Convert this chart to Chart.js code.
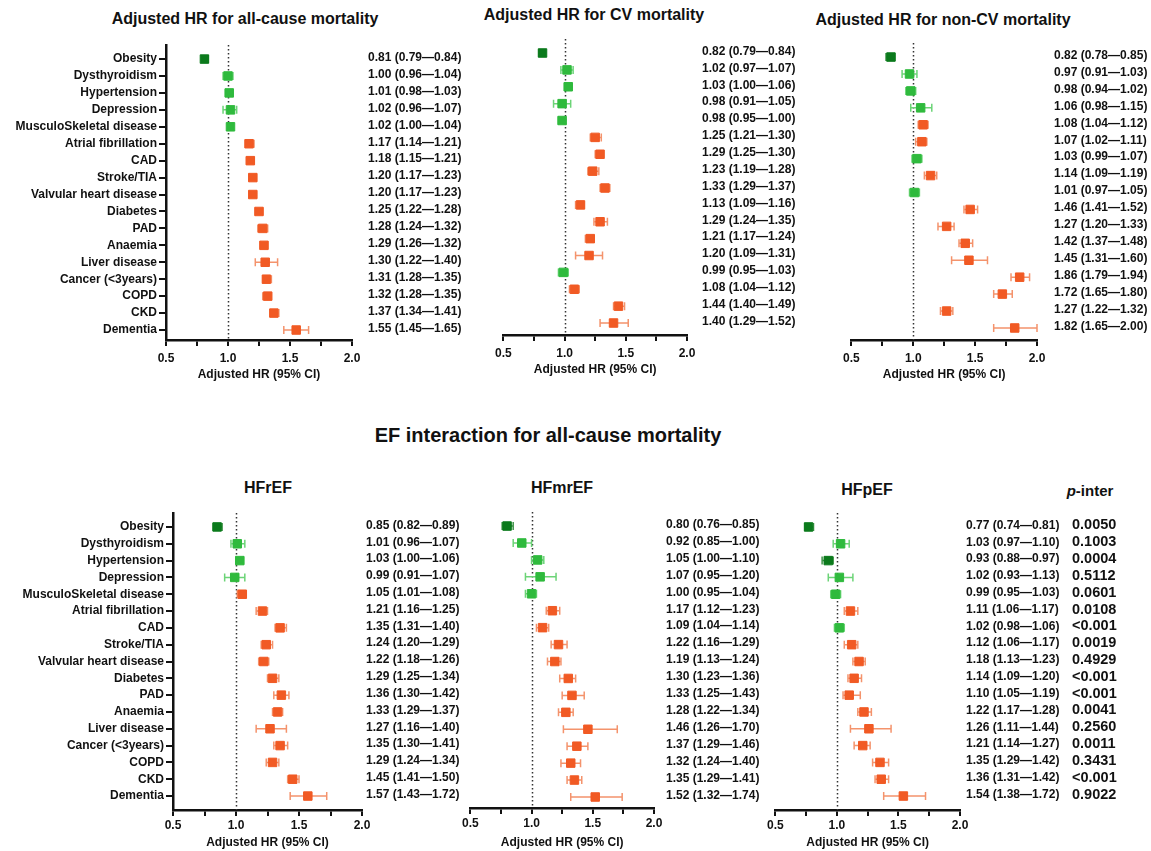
<!DOCTYPE html>
<html>
<head>
<meta charset="utf-8">
<script src="https://cdn.jsdelivr.net/npm/chart.js@4.4.1/dist/chart.umd.min.js"></script>
<style>
  body { margin: 0; background: #fff; width: 1151px; height: 851px; position: relative; overflow: hidden;
         font-family: "Liberation Sans", Arial, sans-serif; color: #111; }
  canvas { position: absolute; }
  .t { position: absolute; transform: translate(-50%, -50%); font-weight: bold; white-space: nowrap; }
</style>
</head>
<body>
<div class="t" style="left:245px;top:19px;font-size:16px">Adjusted HR for all-cause mortality</div>
<div class="t" style="left:594px;top:15px;font-size:16px">Adjusted HR for CV mortality</div>
<div class="t" style="left:943px;top:20px;font-size:16px">Adjusted HR for non-CV mortality</div>
<div class="t" style="left:548px;top:435px;font-size:20px">EF interaction for all-cause mortality</div>
<div class="t" style="left:268px;top:488px;font-size:16px">HFrEF</div>
<div class="t" style="left:562px;top:488px;font-size:16px">HFmrEF</div>
<div class="t" style="left:867px;top:490px;font-size:16px">HFpEF</div>
<div class="t" style="left:1090px;top:490px;font-size:15px"><i>p</i>-inter</div>

<script>
// Comorbidities (same order in every panel)
const conditions = ["Obesity", "Dysthyroidism", "Hypertension", "Depression", "MusculoSkeletal disease",
  "Atrial fibrillation", "CAD", "Stroke/TIA", "Valvular heart disease", "Diabetes", "PAD", "Anaemia",
  "Liver disease", "Cancer (<3years)", "COPD", "CKD", "Dementia"];

// Adjusted HR, all-cause mortality
const allHR = [0.81, 1.00, 1.01, 1.02, 1.02, 1.17, 1.18, 1.20, 1.20, 1.25, 1.28, 1.29, 1.30, 1.31, 1.32, 1.37, 1.55];
const allLo = [0.79, 0.96, 0.98, 0.96, 1.00, 1.14, 1.15, 1.17, 1.17, 1.22, 1.24, 1.26, 1.22, 1.28, 1.28, 1.34, 1.45];
const allHi = [0.84, 1.04, 1.03, 1.07, 1.04, 1.21, 1.21, 1.23, 1.23, 1.28, 1.32, 1.32, 1.40, 1.35, 1.35, 1.41, 1.65];

// Adjusted HR, CV mortality
const cvHR = [0.82, 1.02, 1.03, 0.98, 0.98, 1.25, 1.29, 1.23, 1.33, 1.13, 1.29, 1.21, 1.20, 0.99, 1.08, 1.44, 1.40];
const cvLo = [0.79, 0.97, 1.00, 0.91, 0.95, 1.21, 1.25, 1.19, 1.29, 1.09, 1.24, 1.17, 1.09, 0.95, 1.04, 1.40, 1.29];
const cvHi = [0.84, 1.07, 1.06, 1.05, 1.00, 1.30, 1.30, 1.28, 1.37, 1.16, 1.35, 1.24, 1.31, 1.03, 1.12, 1.49, 1.52];

// Adjusted HR, non-CV mortality
const ncvHR = [0.82, 0.97, 0.98, 1.06, 1.08, 1.07, 1.03, 1.14, 1.01, 1.46, 1.27, 1.42, 1.45, 1.86, 1.72, 1.27, 1.82];
const ncvLo = [0.78, 0.91, 0.94, 0.98, 1.04, 1.02, 0.99, 1.09, 0.97, 1.41, 1.20, 1.37, 1.31, 1.79, 1.65, 1.22, 1.65];
const ncvHi = [0.85, 1.03, 1.02, 1.15, 1.12, 1.11, 1.07, 1.19, 1.05, 1.52, 1.33, 1.48, 1.60, 1.94, 1.80, 1.32, 2.00];

// EF interaction: HFrEF
const refHR = [0.85, 1.01, 1.03, 0.99, 1.05, 1.21, 1.35, 1.24, 1.22, 1.29, 1.36, 1.33, 1.27, 1.35, 1.29, 1.45, 1.57];
const refLo = [0.82, 0.96, 1.00, 0.91, 1.01, 1.16, 1.31, 1.20, 1.18, 1.25, 1.30, 1.29, 1.16, 1.30, 1.24, 1.41, 1.43];
const refHi = [0.89, 1.07, 1.06, 1.07, 1.08, 1.25, 1.40, 1.29, 1.26, 1.34, 1.42, 1.37, 1.40, 1.41, 1.34, 1.50, 1.72];

// HFmrEF
const mrefHR = [0.80, 0.92, 1.05, 1.07, 1.00, 1.17, 1.09, 1.22, 1.19, 1.30, 1.33, 1.28, 1.46, 1.37, 1.32, 1.35, 1.52];
const mrefLo = [0.76, 0.85, 1.00, 0.95, 0.95, 1.12, 1.04, 1.16, 1.13, 1.23, 1.25, 1.22, 1.26, 1.29, 1.24, 1.29, 1.32];
const mrefHi = [0.85, 1.00, 1.10, 1.20, 1.04, 1.23, 1.14, 1.29, 1.24, 1.36, 1.43, 1.34, 1.70, 1.46, 1.40, 1.41, 1.74];

// HFpEF
const pefHR = [0.77, 1.03, 0.93, 1.02, 0.99, 1.11, 1.02, 1.12, 1.18, 1.14, 1.10, 1.22, 1.26, 1.21, 1.35, 1.36, 1.54];
const pefLo = [0.74, 0.97, 0.88, 0.93, 0.95, 1.06, 0.98, 1.06, 1.13, 1.09, 1.05, 1.17, 1.11, 1.14, 1.29, 1.31, 1.38];
const pefHi = [0.81, 1.10, 0.97, 1.13, 1.03, 1.17, 1.06, 1.17, 1.23, 1.20, 1.19, 1.28, 1.44, 1.27, 1.42, 1.42, 1.72];

// p for interaction
const pInter = ["0.0050", "0.1003", "0.0004", "0.5112", "0.0601", "0.0108", "<0.001", "0.0019", "0.4929",
  "<0.001", "<0.001", "0.0041", "0.2560", "0.0011", "0.3431", "<0.001", "0.9022"];

const xTicks = [0.5, 0.75, 1.0, 1.25, 1.5, 1.75, 2.0];

const FONT = '"Liberation Sans", Arial, sans-serif';
Chart.defaults.font.family = FONT;
Chart.defaults.color = "#111";

const DARK_GREEN = "#0b7a1c", GREEN = "#2fba3d", ORANGE = "#f15a24";

function markColor(lo, hi) {
  if (hi < 1) return DARK_GREEN;
  if (lo > 1) return ORANGE;
  return GREEN;
}
function barColor(lo, hi) {
  if (hi < 1) return "#3f9448";
  if (lo > 1) return "#f4936c";
  return "#6cd477";
}

/**
 * Error bars, reference line at HR = 1 and the text columns.
 */
function makeForest(p) {
  return {
    id: "forest",
    beforeDatasetsDraw(chart) {
      const { ctx, chartArea, scales: { x, y } } = chart;
      ctx.save();
      const x1 = Math.round(x.getPixelForValue(1)) + 0.5;
      ctx.strokeStyle = "#333";
      ctx.lineWidth = 1.5;
      ctx.setLineDash([1.5, 2.5]);
      ctx.beginPath();
      ctx.moveTo(x1, chartArea.top);
      ctx.lineTo(x1, chartArea.bottom);
      ctx.stroke();
      ctx.setLineDash([]);
      p.lo.forEach((lo, i) => {
        const hi = p.hi[i];
        const py = y.getPixelForValue(i);
        const a = x.getPixelForValue(lo), b = x.getPixelForValue(hi);
        ctx.strokeStyle = barColor(lo, hi);
        ctx.lineWidth = 1.5;
        ctx.beginPath();
        ctx.moveTo(a, py); ctx.lineTo(b, py);
        ctx.moveTo(a, py - 4); ctx.lineTo(a, py + 4);
        ctx.moveTo(b, py - 4); ctx.lineTo(b, py + 4);
        ctx.stroke();
      });
      ctx.restore();
    },
    afterDraw(chart) {
      const { ctx, chartArea, scales: { y } } = chart;
      ctx.save();
      ctx.fillStyle = "#111";
      ctx.textBaseline = "middle";
      ctx.textAlign = "left";
      p.hr.forEach((v, i) => {
        const py = y.getPixelForValue(i) - 1.5;
        ctx.font = "bold 12px " + FONT;
        ctx.fillText(`${v.toFixed(2)} (${p.lo[i].toFixed(2)}\u2014${p.hi[i].toFixed(2)})`,
          chartArea.right + p.textGap, py);
        if (p.pvals) {
          ctx.font = "bold 14.5px " + FONT;
          ctx.fillText(p.pvals[i], chartArea.right + p.pGap, py);
        }
      });
      ctx.restore();
    },
  };
}

function drawPanel(p) {
  const canvas = document.createElement("canvas");
  canvas.width = p.w;
  canvas.height = p.h;
  canvas.style.left = p.left + "px";
  canvas.style.top = p.top + "px";
  document.body.appendChild(canvas);

  const colors = p.hr.map((v, i) => markColor(p.lo[i], p.hi[i]));

  new Chart(canvas, {
    type: "scatter",
    data: {
      datasets: [{
        data: p.hr.map((v, i) => ({ x: v, y: i })),
        pointStyle: "rect",
        pointRadius: 6,
        pointHoverRadius: 6,
        pointBackgroundColor: colors,
        pointBorderColor: colors,
        pointBorderWidth: 1,
      }],
    },
    options: {
      responsive: false,
      animation: false,
      devicePixelRatio: 1,
      events: [],
      layout: { padding: { left: p.padL, right: p.padR, top: p.padT, bottom: 0 } },
      plugins: { legend: { display: false }, tooltip: { enabled: false } },
      scales: {
        x: {
          type: "linear",
          min: 0.5,
          max: 2.0,
          afterBuildTicks: s => { s.ticks = xTicks.map(v => ({ value: v })); },
          afterFit: s => { s.height = p.xH; },
          ticks: {
            autoSkip: false,
            maxRotation: 0,
            padding: p.tickPad,
            font: { size: 12, weight: "bold" },
            color: "#111",
            callback: v => (Number.isInteger(v * 2) ? v.toFixed(1) : ""),
          },
          grid: { drawOnChartArea: false, drawTicks: true, tickLength: 6, color: "#111", lineWidth: 2 },
          border: { display: true, color: "#111", width: 2.5 },
          title: {
            display: true,
            text: "Adjusted HR (95% CI)",
            font: { size: 12, weight: "bold" },
            color: "#111",
            padding: { top: 0, bottom: p.titlePad },
          },
        },
        y: {
          type: "linear",
          reverse: true,
          min: -0.83,
          max: p.yMax,
          display: p.showLabels,
          afterBuildTicks: s => { s.ticks = conditions.map((c, i) => ({ value: i })); },
          afterFit: s => { s.width = p.yW; },
          ticks: {
            autoSkip: false,
            padding: 2,
            font: { size: 12, weight: "bold" },
            color: "#111",
            callback: v => conditions[v],
          },
          grid: { drawOnChartArea: false, drawTicks: true, tickLength: 7, color: "#111", lineWidth: 2 },
          border: { display: true, color: "#111", width: 2.5 },
        },
      },
    },
    plugins: [makeForest(p)],
  });
}

drawPanel({ hr: allHR, lo: allLo, hi: allHi, showLabels: true, yW: 166, tickPad: 5,
  left: 0, top: 30, w: 470, h: 355, padL: 0, padR: 118, padT: 15, xH: 45, yMax: 16.59, textGap: 16, titlePad: 3 });
drawPanel({ hr: cvHR, lo: cvLo, hi: cvHi, showLabels: false, yW: 0, tickPad: 5,
  left: 490, top: 30, w: 310, h: 350, padL: 12, padR: 113, padT: 9, xH: 45, yMax: 16.71, textGap: 15, titlePad: 3 });
drawPanel({ hr: ncvHR, lo: ncvLo, hi: ncvHi, showLabels: false, yW: 0, tickPad: 5,
  left: 838, top: 30, w: 313, h: 355, padL: 12, padR: 114, padT: 13, xH: 45, yMax: 16.71, textGap: 17, titlePad: 3 });
drawPanel({ hr: refHR, lo: refLo, hi: refHi, showLabels: true, yW: 173, tickPad: 2,
  left: 0, top: 500, w: 470, h: 351, padL: 0, padR: 108, padT: 13, xH: 41, yMax: 16.83, textGap: 4, titlePad: 1 });
drawPanel({ hr: mrefHR, lo: mrefLo, hi: mrefHi, showLabels: false, yW: 0, tickPad: 2,
  left: 460, top: 500, w: 310, h: 351, padL: 9, padR: 116, padT: 12, xH: 43, yMax: 16.65, textGap: 12, titlePad: 1 });
drawPanel({ hr: pefHR, lo: pefLo, hi: pefHi, pvals: pInter, showLabels: false, yW: 0, tickPad: 2,
  left: 765, top: 500, w: 386, h: 351, padL: 10, padR: 191, padT: 13, xH: 41, yMax: 16.83, textGap: 6, pGap: 112, titlePad: 1 });
</script>
</body>
</html>
